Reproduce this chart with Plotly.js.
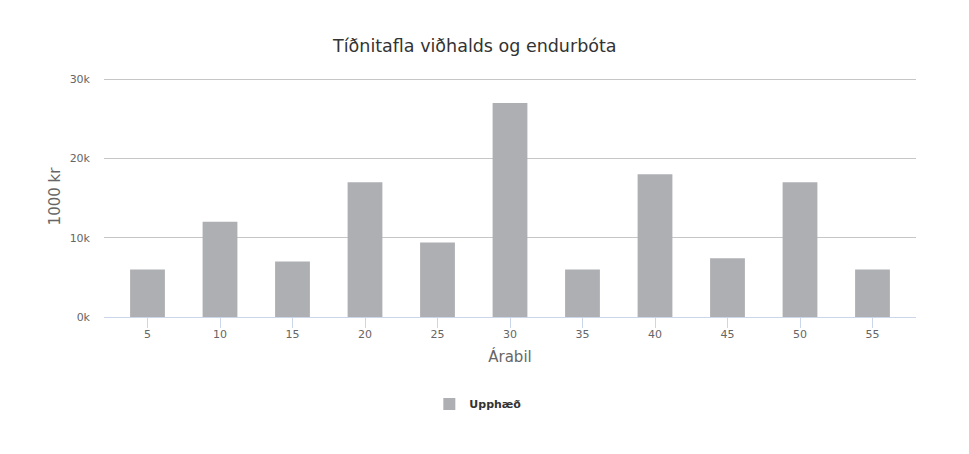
<!DOCTYPE html>
<html>
<head>
<meta charset="utf-8">
<script src="https://cdn.plot.ly/plotly-3.0.1.min.js"></script>
<style>
  html, body { margin: 0; padding: 0; background: #fff; }
  #chart { width: 969px; height: 454px; }
</style>
</head>
<body>
<div id="chart"></div>
<script>
  // gögn lesin af myndinni
  const categories = ["5", "10", "15", "20", "25", "30", "35", "40", "45", "50", "55"];
  const amounts = [6000, 12000, 7000, 17000, 9400, 27000, 6000, 18000, 7400, 17000, 6000];
  const yTickVals = [0, 10000, 20000, 30000];
  const yTickText = ["0k", "10k", "20k", "30k"];

  const FONT = "DejaVu Sans, Verdana, sans-serif";

  const trace = {
    type: "bar",
    name: "Upphæð",
    x: categories,
    y: amounts,
    width: 0.48,
    marker: { color: "#aeafb3", line: { width: 0 } },
    hoverinfo: "x+y"
  };

  const layout = {
    width: 969,
    height: 454,
    margin: { l: 104, r: 53, t: 76, b: 137 },
    paper_bgcolor: "#fff",
    plot_bgcolor: "#fff",
    font: { family: FONT, color: "#666666", size: 11 },
    title: {
      text: "Tíðnitafla viðhalds og endurbóta",
      font: { family: FONT, size: 17.5, color: "#333333" },
      x: 0.49, xanchor: "center",
      y: 0.9, yanchor: "middle"
    },
    xaxis: {
      type: "category",
      range: [-0.6, 10.6],
      showgrid: false,
      showline: true,
      linecolor: "#ccd6eb",
      linewidth: 1,
      ticks: "outside",
      ticklen: 10,
      tickcolor: "#ccd6eb",
      ticklabelstandoff: -3,
      tickfont: { size: 11, color: "#666666" },
      title: { text: "Árabil", font: { size: 15, color: "#666666" }, standoff: 11 },
      zeroline: false
    },
    yaxis: {
      range: [0, 30400],
      tickvals: yTickVals,
      ticktext: yTickText,
      showgrid: true,
      gridcolor: "#c6c6c6",
      gridwidth: 1,
      zeroline: false,
      showline: false,
      ticks: "",
      ticklabelstandoff: 13,
      tickfont: { size: 11, color: "#666666" },
      title: { text: "1000 kr", font: { size: 15, color: "#666666" }, standoff: 5 }
    },
    showlegend: true,
    legend: {
      orientation: "h",
      x: 0.461, xanchor: "center",
      y: -0.361, yanchor: "middle",
      font: { size: 11, color: "#333333", weight: "bold" },
      itemwidth: 30
    },
    bargap: 0.52
  };

  Plotly.newPlot("chart", [trace], layout, { displayModeBar: false, staticPlot: true });
</script>
</body>
</html>
